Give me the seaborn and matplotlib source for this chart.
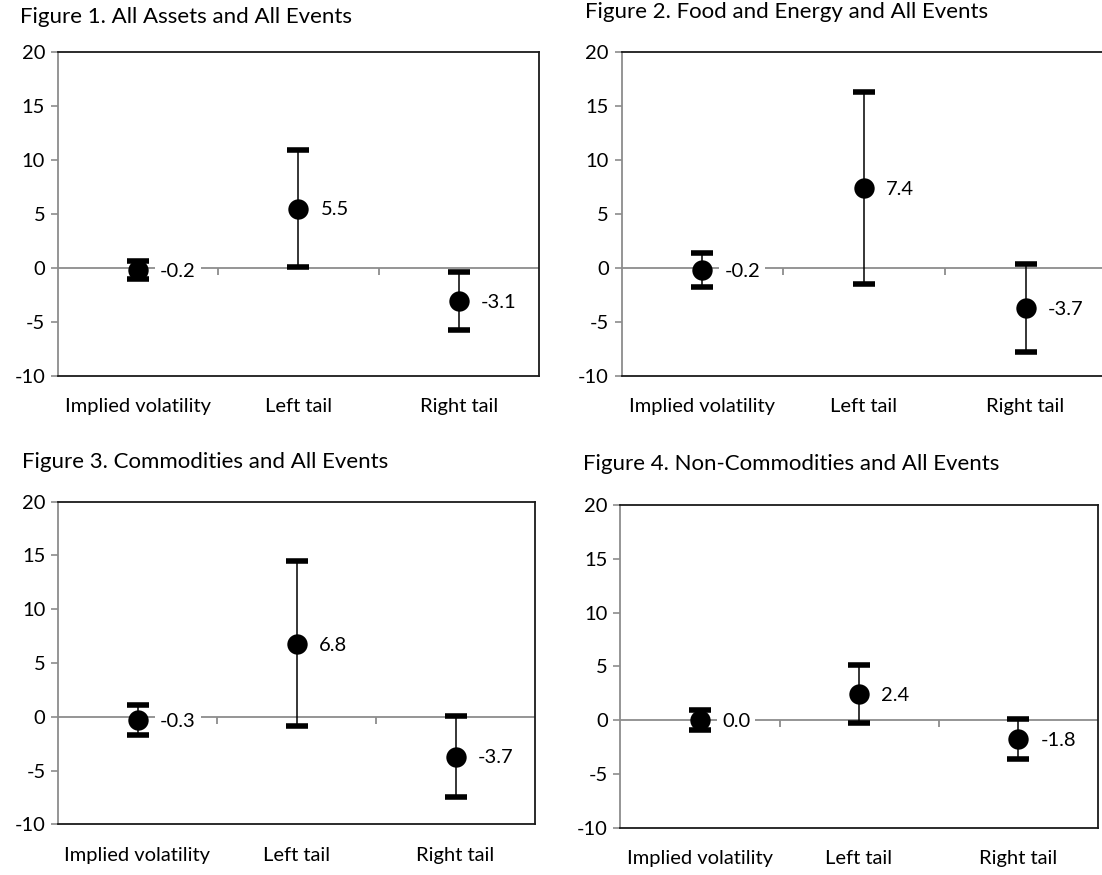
import numpy as np
import pandas as pd
import matplotlib
matplotlib.use("Agg")
import matplotlib.pyplot as plt
from matplotlib.markers import TICKDOWN
import seaborn as sns

# ---- data -------------------------------------------------------------
categories = ["Implied volatility", "Left tail", "Right tail"]

titles = [
    "Figure 1. All Assets and All Events",
    "Figure 2. Food and Energy and All Events",
    "Figure 3. Commodities and All Events",
    "Figure 4. Non-Commodities and All Events",
]

estimates_1 = [-0.2, 5.5, -3.1]
lower_1 = [-1.0, 0.1, -5.8]
upper_1 = [0.6, 10.9, -0.4]

estimates_2 = [-0.2, 7.4, -3.7]
lower_2 = [-1.75, -1.5, -7.8]
upper_2 = [1.35, 16.3, 0.4]

estimates_3 = [-0.3, 6.8, -3.7]
lower_3 = [-1.7, -0.9, -7.5]
upper_3 = [1.1, 14.5, 0.1]

estimates_4 = [0.0, 2.4, -1.8]
lower_4 = [-0.9, -0.3, -3.6]
upper_4 = [0.9, 5.1, 0.1]

y_ticks = [-10, -5, 0, 5, 10, 15, 20]

panels = [
    (titles[0], estimates_1, lower_1, upper_1),
    (titles[1], estimates_2, lower_2, upper_2),
    (titles[2], estimates_3, lower_3, upper_3),
    (titles[3], estimates_4, lower_4, upper_4),
]

# ---- style ------------------------------------------------------------
sns.set_theme(style="white")
plt.rcParams["font.family"] = ["Lato", "DejaVu Sans"]
plt.rcParams["axes.unicode_minus"] = False

W, H = 1102, 875
fig = plt.figure(figsize=(W / 100, H / 100), dpi=100)
fig.patch.set_facecolor("white")

# axes boxes in pixels: left, top, right, bottom
boxes = [
    (57.7, 52.3, 539.0, 375.7),
    (621.5, 52.3, 1106.3, 375.7),
    (58.0, 501.7, 535.0, 824.3),
    (620.4, 505.0, 1097.7, 827.7),
]
title_pos = [(20, 17.0), (585, 12.0), (22, 462.0), (583, 464.5)]

GRAY = "#8c8c8c"
FRAME = "#1a1a1a"
FS = 14.5
TITLE_FS = 16

for (title, est, lo, hi), (l, t, r, b), (tx, ty) in zip(panels, boxes, title_pos):
    ax = fig.add_axes([l / W, 1 - b / H, (r - l) / W, (b - t) / H])
    df = pd.DataFrame({"pos": np.arange(len(categories)), "est": est,
                       "lo": lo, "hi": hi, "cat": categories})

    # zero line with category-boundary ticks
    ax.axhline(0, color=GRAY, lw=1.3, zorder=1)
    bounds = np.arange(len(categories) - 1) + 0.5
    ax.plot(bounds, np.zeros_like(bounds), ls="none", marker=TICKDOWN,
            ms=5, mew=1.3, color=GRAY, zorder=1)

    # confidence intervals
    ax.errorbar(df["pos"], df["est"],
                yerr=[df["est"] - df["lo"], df["hi"] - df["est"]],
                fmt="none", ecolor="black", elinewidth=1.1,
                capsize=7.6, capthick=4.0, zorder=3)

    # point estimates
    sns.scatterplot(data=df, x="pos", y="est", ax=ax, s=215,
                    color="black", edgecolor="black", linewidth=0,
                    zorder=4, legend=False)

    # value labels
    for xp, v in zip(df["pos"], df["est"]):
        ax.annotate(f"{v:.1f}", (xp, v), xytext=(16, -1),
                    textcoords="offset points", ha="left", va="center",
                    fontsize=FS, color="black", zorder=5,
                    bbox=dict(boxstyle="square,pad=0.25", fc="white", ec="none"))

    ax.set_xlim(-0.5, len(categories) - 0.5)
    ax.set_ylim(-10, 20)
    ax.set_yticks(y_ticks)
    ax.set_yticklabels([str(v) for v in y_ticks])
    ax.set_xticks(df["pos"])
    ax.set_xticklabels(categories)
    ax.set_xlabel("")
    ax.set_ylabel("")

    ax.tick_params(axis="y", direction="out", length=5, width=1.2,
                   color=GRAY, pad=4, labelsize=FS, labelcolor="black", left=True)
    ax.tick_params(axis="x", length=0, pad=16, labelsize=FS, labelcolor="black")

    for side in ["top", "right", "bottom"]:
        ax.spines[side].set_color(FRAME)
        ax.spines[side].set_linewidth(1.3)
    ax.spines["left"].set_color(GRAY)
    ax.spines["left"].set_linewidth(1.3)
    ax.set_facecolor("white")

    fig.text(tx / W, 1 - ty / H, title, ha="left", va="center",
             fontsize=TITLE_FS, color="black")

fig.savefig("out.png", dpi=100, facecolor="white")
